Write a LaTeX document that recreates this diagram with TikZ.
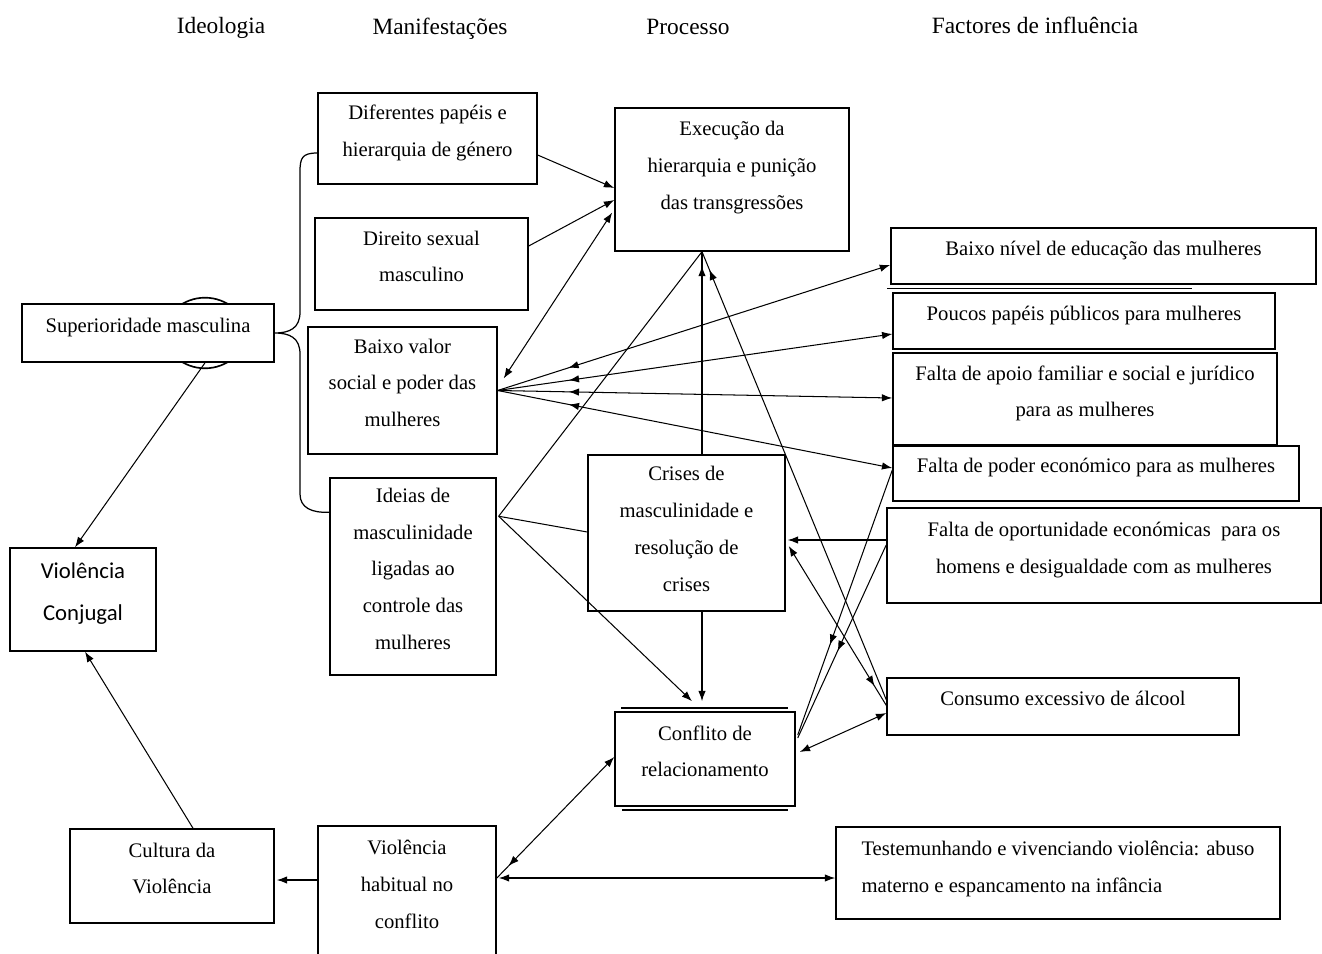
\documentclass[tikz,border=0pt]{standalone}
\usepackage{fontspec}
\setmainfont{Liberation Serif}
\newfontfamily\calibfont{Carlito}
\usetikzlibrary{arrows.meta,calc,decorations.markings}

\tikzset{
  box/.style={draw, line width=0.7pt, fill=white, align=center, inner sep=1pt,
    text depth=7.5pt, font=\fontsize{10}{17.8}\selectfont},
  colhead/.style={font=\fontsize{11.3}{13}\selectfont},
  conn/.style={line width=0.5pt, >={Latex[length=5pt,width=3.6pt]}},
  midtip/.style={postaction={decorate}, decoration={markings,
    mark=at position #1 with {\arrow{Latex[length=5pt,width=3.6pt]}}}},
  backtip/.style={postaction={decorate}, decoration={markings,
    mark=at position #1 with {\arrowreversed{Latex[length=5pt,width=3.6pt]}}}},
}

\begin{document}
\begin{tikzpicture}[x=0.017cm, y=-0.017cm]
\useasboundingbox (0,0) rectangle (1322,954);
\clip (0,0) rectangle (1322,954);

\node[colhead] (hideo) at (221,28) {Ideologia};
\node[colhead] (hman) at (440,29) {Manifestações};
\node[colhead] (hproc) at (688,27) {Processo};
\node[colhead] (hfac) at (1035,25) {Factores de influência};

\draw[line width=0.8pt] (205,333) ellipse [x radius=0.68cm, y radius=0.6cm];

% ideologia
\node[box, minimum width=4.28cm, minimum height=0.99cm] (sup) at (148,333) {Superioridade masculina};
\node[box, minimum width=2.48cm, minimum height=1.75cm, font=\calibfont\fontsize{11}{20.5}\selectfont] (vc) at (83,599.5) {Violência\\Conjugal};
\node[box, minimum width=3.47cm, minimum height=1.60cm] (cult) at (172,876) {Cultura da\\Violência};

% manifestacoes
\node[box, minimum width=3.72cm, minimum height=1.55cm] (dif) at (427.5,138.5) {Diferentes papéis e\\hierarquia de género};
\node[box, minimum width=3.62cm, minimum height=1.56cm] (dir) at (421.5,264) {Direito sexual\\masculino};
\node[box, minimum width=3.21cm, minimum height=2.16cm] (bv) at (402.5,390.5) {Baixo valor\\social e poder das\\mulheres};
\node[box, minimum width=2.82cm, minimum height=3.35cm] (ide) at (413,576.5) {Ideias de\\masculinidade\\ligadas ao\\controle das\\mulheres};
\node[box, minimum width=3.03cm, minimum height=2.24cm] (vh) at (407,892) {Violência\\habitual no\\conflito};

% processo
\node[box, minimum width=3.98cm, minimum height=2.43cm, text depth=14pt] (exec) at (732,179.5) {Execução da\\hierarquia e punição\\das transgressões};
\node[box, minimum width=3.35cm, minimum height=2.65cm, text depth=4pt] (cri) at (686.5,533) {Crises de\\masculinidade e\\resolução de\\crises};
\node[box, minimum width=3.06cm, minimum height=1.60cm] (conf) at (705,759) {Conflito de\\relacionamento};
\draw[line width=0.7pt] ($(conf.north west)+(7,-3)$) -- ($(conf.north east)+(-8,-3)$);
\draw[line width=0.7pt] ($(conf.south west)+(8,3)$) -- ($(conf.south east)+(-8,3)$);

% factores
\node[box, minimum width=7.23cm, minimum height=0.95cm] (bn) at (1103.5,256) {Baixo nível de educação das mulheres};
\draw[line width=0.7pt] ($(bn.south west)+(-3,4)$) -- ($(bn.south west)+(302,4)$);
\node[box, minimum width=6.49cm, minimum height=0.95cm] (pp) at (1084,321) {Poucos papéis públicos para mulheres};
\node[box, minimum width=6.53cm, minimum height=1.56cm] (fap) at (1085,399) {Falta de apoio familiar e social e jurídico\\para as mulheres};
\node[box, minimum width=6.90cm, minimum height=0.94cm] (fpo) at (1096,473.5) {Falta de poder económico para as mulheres};
\node[box, minimum width=7.38cm, minimum height=1.62cm] (fop) at (1104,555.5) {Falta de oportunidade económicas\ \ para os\\homens e desigualdade com as mulheres};
\node[box, minimum width=5.98cm, minimum height=0.97cm] (cons) at (1063,706.5) {Consumo excessivo de álcool};
\node[box, minimum width=7.55cm, minimum height=1.56cm, align=left, text depth=6pt] (test) at (1058,873) {Testemunhando e vivenciando violência: abuso\\materno e espancamento na infância};

\coordinate (ideo) at ($(ide.north east)+(2,39)$);
\coordinate (exb) at ($(exec.south)+(-30,0)$);

% chaveta
\draw[line width=0.6pt] ($(dif.west)+(0,14.5)$) .. controls (302,153) and (300,158) .. (300,172) -- (300,312)
  .. controls (300,328) and (290,333) .. (sup.east) .. controls (290,333) and (300,338) .. (300,354) -- (300,494)
  .. controls (300,508) and (312,513) .. ($(ide.north west)+(0,35)$);

\draw[conn,->] ($(sup.south)+(57,0)$) -- ($(vc.north)+(-8,0)$);
\draw[conn,->] ($(cult.north)+(21,0)$) -- ($(vc.south)+(2,0)$);
\draw[conn,->] ($(vh.west)+(0,-12)$) -- ($(cult.east)+(2,4)$);
\draw[conn,<->] ($(vh.east)+(2,-14)$) -- ($(test.west)+(0,5)$);
\draw[conn,->,backtip=0.1] ($(vh.east)+(0,-14)$) -- ($(conf.west)+(0,-2)$);

\draw[conn,->] ($(dif.east)+(0,16.5)$) -- ($(exec.west)+(0,8.5)$);
\draw[conn,->] ($(dir.east)+(0,-18)$) -- ($(exec.west)+(0,20.5)$);
\draw[conn,<->] ($(bv.east)+(6,-12)$) -- ($(exec.west)+(-2,33)$);
\foreach \tgt/\dy in {bn/9, pp/13, fap/-1, fpo/-5.5}
  \draw[conn,->,backtip=0.18] (bv.east) -- ($(\tgt.west)+(0,\dy)$);

\draw[conn] (ideo) -- (exb);
\draw[conn] (ideo) -- ($(cri.west)+(0,-1)$);
\draw[conn,->] (ideo) -- ($(conf.north)+(-13,-10)$);

\draw[conn,midtip=0.93] ($(cri.north)+(15.5,0)$) -- (exb);
\draw[conn,->] ($(cri.south)+(15.5,0)$) -- ($(conf.north)+(-3,-10)$);
\draw[conn,midtip=0.96] ($(cons.west)+(0,-6.5)$) -- (exb);
\draw[conn,<-,midtip=0.88] ($(cri.east)+(3,13)$) -- ($(cons.west)+(0,-1)$);
\draw[conn,->] ($(fop.west)+(0,-15.5)$) -- ($(cri.east)+(2,7)$);
\draw[conn,midtip=0.66] ($(fpo.west)+(0,-3.5)$) -- ($(conf.east)+(2,-24)$);
\draw[conn,midtip=0.55] ($(fop.west)+(0,-10.5)$) -- ($(conf.east)+(2,-21)$);
\draw[conn,<->] ($(conf.east)+(4,-7)$) -- ($(cons.west)+(0,6.5)$);
\end{tikzpicture}
\end{document}
